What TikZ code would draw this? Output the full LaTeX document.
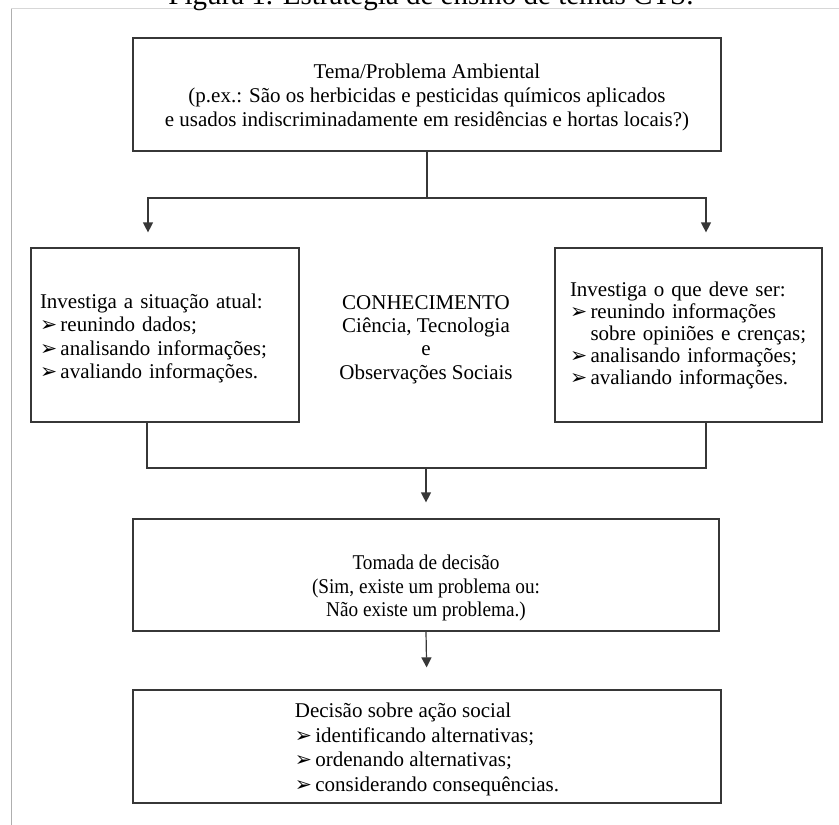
\documentclass[tikz,border=0pt]{standalone}
\usepackage{fontspec}
\setmainfont{Liberation Serif}
\newfontfamily\dejavu{DejaVu Sans}
\newfontfamily\condensed[FakeStretch=0.915]{Liberation Serif}
\usetikzlibrary{arrows.meta,calc}
\definecolor{boxline}{RGB}{55,55,55}
\definecolor{frameleft}{RGB}{175,175,175}
\definecolor{frametop}{RGB}{215,215,215}
\newcommand{\bul}{\makebox[20.5pt][l]{\dejavu\fontsize{20.5}{20}\selectfont ➢}}
\begin{document}
\begin{tikzpicture}[x=1pt,y=-1pt,
  box/.style={draw=boxline,line width=1.2pt,inner sep=0pt},
  conn/.style={draw=boxline,line width=1.2pt},
  arr/.style={conn,-{Triangle[width=10pt,length=10pt]}},
  txt/.style={font=\fontsize{21}{23.3}\selectfont}]
\useasboundingbox (0,0) rectangle (839,825);
\fill[white] (0,0) rectangle (839,825);
\draw[frameleft,line width=1pt] (11,825) -- (11,8);
\draw[frametop,line width=1pt] (11,8) -- (839,8);
\node[anchor=base,font=\fontsize{29}{29}\selectfont] (title) at (431,4) {Figura 1. Estratégia de ensino de temas CTS.};
% boxes
\node[box,minimum width=588pt,minimum height=113pt] (top) at (427,94.5) {};
\node[align=center,font=\fontsize{21}{24}\selectfont] (toptext) at (427,97)
  {Tema/Problema Ambiental\\(p.ex.: São os herbicidas e pesticidas químicos aplicados\\e usados indiscriminadamente em residências e hortas locais?)};
\node[box,minimum width=268pt,minimum height=174pt] (left) at (165,335) {};
\node[text width=250pt,inner sep=0pt,align=left,txt] (lefttext) at (165,338.5)
  {Investiga a situação atual:\\\bul reunindo dados;\\\bul analisando informações;\\\bul avaliando informações.};
\node[txt,align=center] (know) at (426,339.5)
  {CONHECIMENTO\\Ciência, Tecnologia\\e\\Observações Sociais};
\node[box,minimum width=267pt,minimum height=174pt] (right) at (688.5,335) {};
\node[text width=237pt,inner sep=0pt,align=left,font=\fontsize{21}{22}\selectfont] (righttext) at (688.5,335)
  {Investiga o que deve ser:\\\bul reunindo informações\\\hspace*{20.5pt}sobre opiniões e crenças;\\\bul analisando informações;\\\bul avaliando informações.};
\node[box,minimum width=586pt,minimum height=112pt] (mid) at (426,575) {};
\node[align=center,font=\condensed\fontsize{21}{23.5}\selectfont] (midtext) at (426,588)
  {Tomada de decisão\\(Sim, existe um problema ou:\\Não existe um problema.)};
\node[box,minimum width=588pt,minimum height=113pt] (bot) at (427,746.5) {};
\node[align=left,font=\fontsize{21}{24.5}\selectfont] (bottext) at (427,749.5)
  {Decisão sobre ação social\\\bul identificando alternativas;\\\bul ordenando alternativas;\\\bul considerando consequências.};
% connectors
\coordinate (jm) at (427,198);
\coordinate (jl) at (148,198);
\coordinate (jr) at (706,198);
\draw[conn] (top.south) -- (jm);
\draw[arr,shorten >=15pt] (jm) -- (jl) -- (jl |- left.north);
\draw[arr,shorten >=15pt] (jm) -- (jr) -- (jr |- right.north);
\coordinate (ml) at (147,468);
\coordinate (mr) at (706,468);
\draw[conn] (ml |- left.south) -- (ml) -- (mr) -- (mr |- right.south);
\draw[arr,shorten >=16pt] (mid.north |- ml) -- (mid.north);
\draw[arr,shorten >=22pt] (mid.south) -- (bot.north);
\end{tikzpicture}
\end{document}
